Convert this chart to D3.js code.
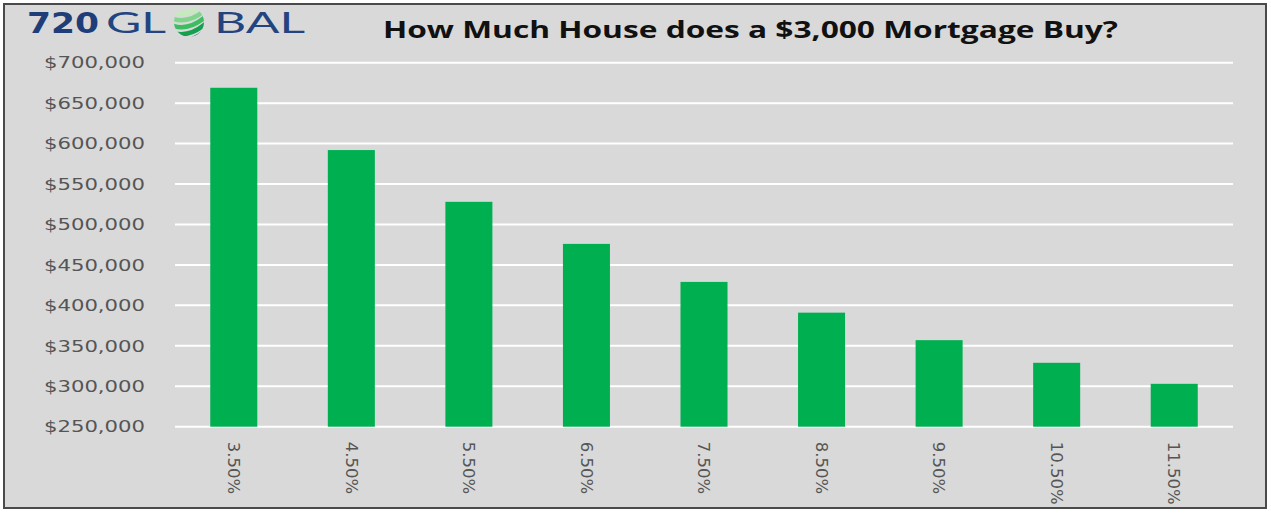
<!DOCTYPE html>
<html>
<head>
<meta charset="utf-8">
<script src="https://cdn.jsdelivr.net/npm/d3@7/dist/d3.min.js"></script>
<style>
  body { margin: 0; background: #ffffff; }
  svg { display: block; }
</style>
</head>
<body>
<svg id="chart" width="1271" height="515"></svg>
<script>
// data
const rates = ["3.50%", "4.50%", "5.50%", "6.50%", "7.50%", "8.50%", "9.50%", "10.50%", "11.50%"];
const houseValues = [669000, 592000, 528000, 476000, 429000, 391000, 357000, 329000, 303000];
const yTicks = [250000, 300000, 350000, 400000, 450000, 500000, 550000, 600000, 650000, 700000];
const chartTitle = "How Much House does a $3,000 Mortgage Buy?";

const svg = d3.select("#chart");

// frame
svg.append("rect")
  .attr("x", 4).attr("y", 4)
  .attr("width", 1262).attr("height", 504)
  .attr("fill", "#d9d9d9")
  .attr("stroke", "#4a4a4a")
  .attr("stroke-width", 2);

const plot = { left: 175, right: 1233, top: 62.7, bottom: 426.7 };

const x = d3.scaleBand()
  .domain(rates)
  .range([plot.left, plot.right])
  .paddingInner(0.6)
  .paddingOuter(0.3);

const y = d3.scaleLinear()
  .domain([250000, 700000])
  .range([plot.bottom, plot.top]);

// gridlines
svg.append("g")
  .selectAll("line")
  .data(yTicks)
  .enter().append("line")
  .attr("x1", plot.left).attr("x2", plot.right)
  .attr("y1", d => y(d)).attr("y2", d => y(d))
  .attr("stroke", "#ffffff")
  .attr("stroke-width", 2);

// bars
svg.append("g")
  .selectAll("rect")
  .data(houseValues)
  .enter().append("rect")
  .attr("x", (d, i) => x(rates[i]))
  .attr("y", d => y(d))
  .attr("width", x.bandwidth())
  .attr("height", d => y(250000) - y(d))
  .attr("fill", "#00b050");

// y axis
const yAxis = d3.axisLeft(y)
  .tickValues(yTicks)
  .tickSize(0)
  .tickPadding(0)
  .tickFormat(d => "$" + d3.format(",")(d));

const yg = svg.append("g")
  .attr("transform", "translate(145,0)")
  .call(yAxis);
yg.select(".domain").remove();
yg.selectAll("text")
  .attr("fill", "#555555")
  .attr("font-family", "DejaVu Sans, sans-serif")
  .attr("font-size", 16.5)
  .attr("textLength", 101)
  .attr("lengthAdjust", "spacingAndGlyphs");

// x axis, labels turned to read downwards
const xAxis = d3.axisBottom(x).tickSize(0).tickPadding(0);
const xg = svg.append("g")
  .attr("transform", `translate(0,${plot.bottom})`)
  .call(xAxis);
xg.select(".domain").remove();
xg.selectAll("text")
  .attr("fill", "#555555")
  .attr("font-family", "DejaVu Sans, sans-serif")
  .attr("font-size", 16.5)
  .attr("text-anchor", "start")
  .attr("transform", "translate(0,15) rotate(90)")
  .attr("x", 0)
  .attr("y", 0)
  .attr("dy", "0.35em");

// title
svg.append("text")
  .attr("x", 383).attr("y", 38)
  .attr("font-family", "Open Sans, sans-serif")
  .attr("font-weight", "bold")
  .attr("font-size", 22.5)
  .attr("fill", "#111111")
  .attr("textLength", 735)
  .attr("lengthAdjust", "spacingAndGlyphs")
  .text(chartTitle);

// logo
const logo = svg.append("g");
logo.append("text")
  .attr("x", 27).attr("y", 33)
  .attr("font-family", "DejaVu Sans, sans-serif")
  .attr("font-weight", "bold")
  .attr("font-size", 29)
  .attr("fill", "#1f3d78")
  .attr("textLength", 72)
  .attr("lengthAdjust", "spacingAndGlyphs")
  .text("720");
logo.append("text")
  .attr("x", 106).attr("y", 33)
  .attr("font-family", "Lato, sans-serif")
  .attr("font-size", 29)
  .attr("fill", "#24447f")
  .attr("textLength", 60)
  .attr("lengthAdjust", "spacingAndGlyphs")
  .text("GL");
logo.append("text")
  .attr("x", 214).attr("y", 33)
  .attr("font-family", "Lato, sans-serif")
  .attr("font-size", 29)
  .attr("fill", "#24447f")
  .attr("textLength", 91)
  .attr("lengthAdjust", "spacingAndGlyphs")
  .text("BAL");

// globe mark
const gx = 189, gy = 22;
svg.append("clipPath").attr("id", "globe")
  .append("circle").attr("cx", gx).attr("cy", gy).attr("r", 15);
const globe = logo.append("g").attr("clip-path", "url(#globe)");
const stripes = ["#c4ecbb", "#7fd68a", "#3cbd62", "#14a04e", "#1f5fa0"];
stripes.forEach((c, i) => {
  globe.append("path")
    .attr("d", `M${gx - 20},${gy - 12 + i * 7} Q${gx - 2},${gy - 2 + i * 7} ${gx + 20},${gy - 22 + i * 7}`)
    .attr("fill", "none")
    .attr("stroke", c)
    .attr("stroke-width", 4.5);
});
</script>
</body>
</html>
